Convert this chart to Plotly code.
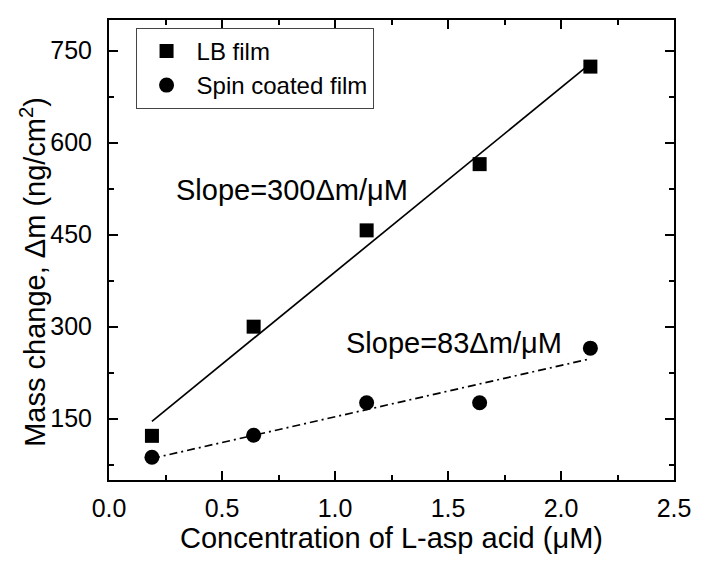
import numpy as np
import plotly.graph_objects as go

# L-aspartic acid concentration (uM)
conc = [0.19, 0.64, 1.14, 1.64, 2.13]
# mass change (ng/cm^2) for each film type
lb_mass = [122, 300, 457, 565, 724]
spin_mass = [87, 123, 176, 176, 265]

x_ticks = [0.0, 0.5, 1.0, 1.5, 2.0, 2.5]
y_ticks = [150, 300, 450, 600, 750]

FONT = "Liberation Sans, Arial, sans-serif"

# least-squares fits drawn between the first and last concentration
x_arr = np.array(conc)
lb_fit = np.polyfit(x_arr, lb_mass, 1)
spin_fit = np.polyfit(x_arr, spin_mass, 1)
x_line = np.array([conc[0], conc[-1]])

fig = go.Figure()

fig.add_trace(go.Scatter(
    x=x_line, y=np.polyval(lb_fit, x_line), mode="lines",
    line=dict(color="black", width=1.7), showlegend=False, hoverinfo="skip"))
fig.add_trace(go.Scatter(
    x=x_line, y=np.polyval(spin_fit, x_line), mode="lines",
    line=dict(color="black", width=1.7, dash="8px,4px,2px,4px"),
    showlegend=False, hoverinfo="skip"))

fig.add_trace(go.Scatter(
    x=conc, y=lb_mass, mode="markers", name="LB film",
    marker=dict(symbol="square", size=14, color="black")))
fig.add_trace(go.Scatter(
    x=conc, y=spin_mass, mode="markers", name="Spin coated film",
    marker=dict(symbol="circle", size=15, color="black")))

fig.add_annotation(x=0.288, y=523, xref="x", yref="y", text="Slope=300\u0394m/\u03bcM",
                   showarrow=False, xanchor="left", yanchor="middle",
                   font=dict(size=29, color="black", family=FONT))
fig.add_annotation(x=1.04, y=273, xref="x", yref="y", text="Slope=83\u0394m/\u03bcM",
                   showarrow=False, xanchor="left", yanchor="middle",
                   font=dict(size=29, color="black", family=FONT))

# vertical axis title, set a little below the axis centre
fig.add_annotation(x=-0.135, y=0.452, xref="paper", yref="paper",
                   text="Mass change, \u0394m (ng/cm<sup>2</sup>)", textangle=-90,
                   showarrow=False, xanchor="center", yanchor="middle",
                   font=dict(size=29, color="black", family=FONT))

axis_common = dict(
    showgrid=False, zeroline=False, showline=True, linecolor="black", linewidth=2,
    mirror="allticks", ticks="inside", ticklen=9, tickwidth=1.5, tickcolor="black",
    tickfont=dict(size=25, color="black", family=FONT),
)

fig.update_xaxes(
    range=[0, 2.5], tickvals=x_ticks, ticktext=[f"{v:.1f}" for v in x_ticks],
    minor=dict(dtick=0.25, ticks="inside", ticklen=5, tickwidth=1.5, tickcolor="black"),
    ticklabelstandoff=5,
    title=dict(text="Concentration of L-asp acid (\u03bcM)",
               font=dict(size=29, color="black", family=FONT), standoff=6),
    **axis_common)
fig.update_yaxes(
    range=[50, 800], tickvals=y_ticks, ticktext=[str(v) for v in y_ticks],
    minor=dict(dtick=75, tick0=0, ticks="inside", ticklen=5, tickwidth=1.5, tickcolor="black"),
    ticklabelstandoff=10,
    **axis_common)

fig.update_layout(
    width=703, height=561,
    margin=dict(l=109, r=22, t=20, b=81),
    paper_bgcolor="white", plot_bgcolor="white",
    font=dict(family=FONT, color="black"),
    legend=dict(x=0.047, y=0.983, xanchor="left", yanchor="top",
                bgcolor="white", bordercolor="#444", borderwidth=1,
                font=dict(size=24, color="black", family=FONT),
                itemwidth=50, tracegroupgap=0),
)

fig.write_html("out.html")
